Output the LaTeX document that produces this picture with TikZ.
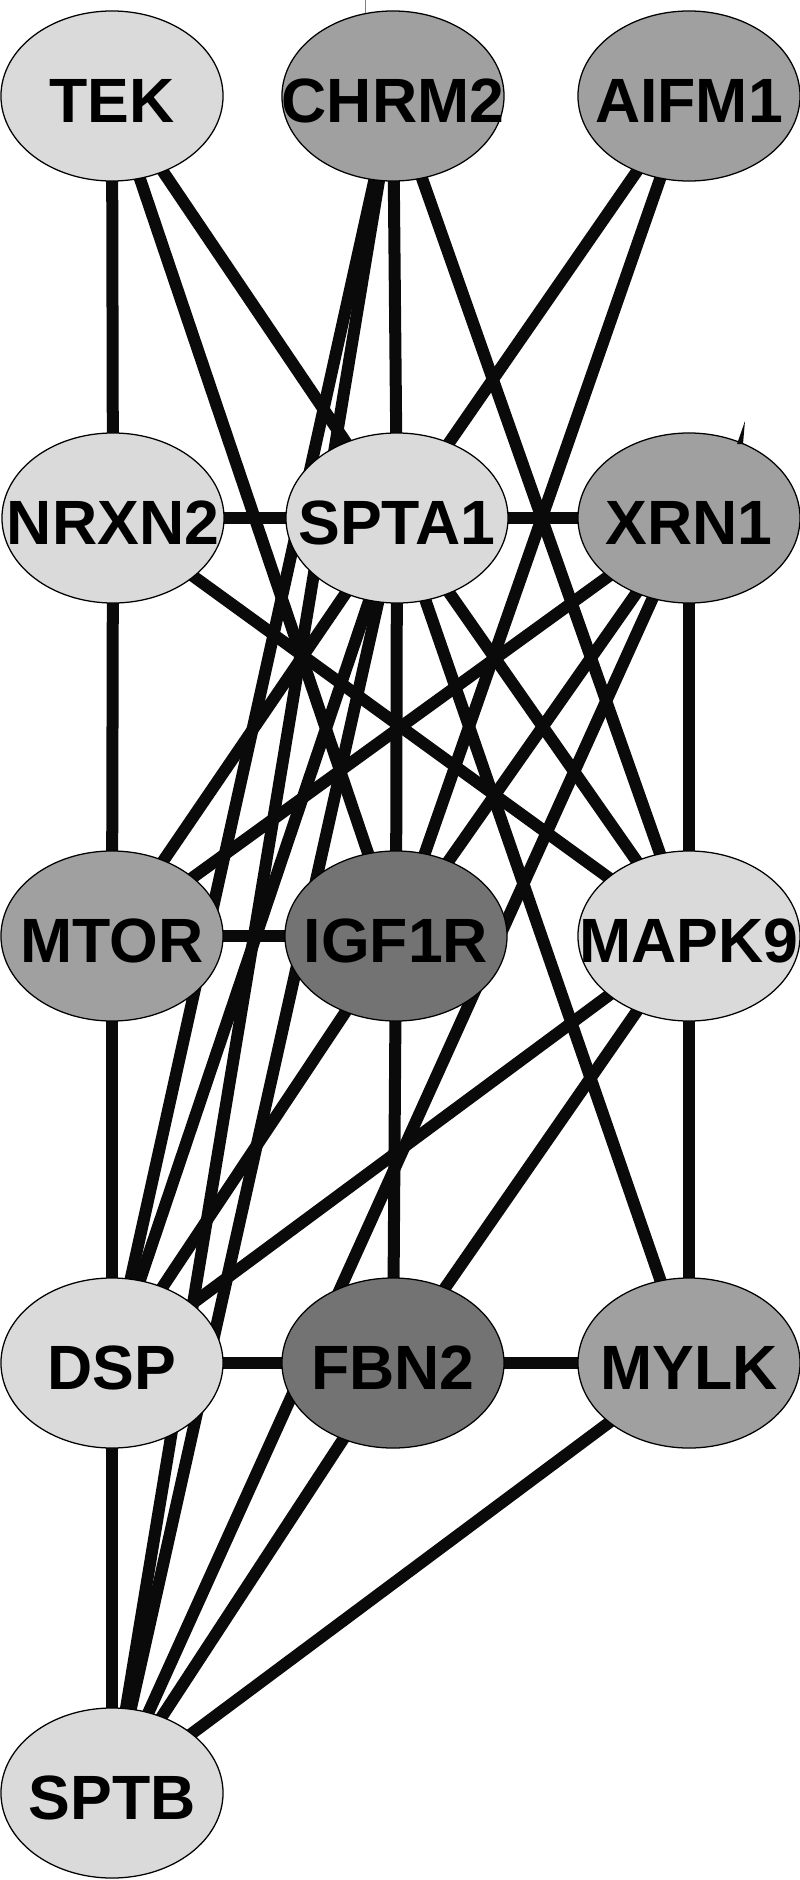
\documentclass[tikz,border=0pt]{standalone}
\usepackage{fontspec}
\setmainfont{Liberation Sans}
\usetikzlibrary{shapes.geometric,backgrounds}
\definecolor{glight}{RGB}{218,218,218}
\definecolor{gmid}{RGB}{160,160,160}
\definecolor{gdark}{RGB}{115,115,115}
\definecolor{edgeblk}{RGB}{10,10,10}
\tikzset{
  gene/.style={draw, ellipse, line width=0.9pt, minimum width=5.55cm, minimum height=4.25cm,
    inner xsep=-2cm, inner ysep=0pt, text height=1.32cm, text depth=0pt,
    font=\bfseries\fontsize{44.5}{50}\selectfont},
  edge/.style={draw=edgeblk, line width=0.3cm},
}
\begin{document}
\begin{tikzpicture}[x=0.025cm, y=-0.025cm]
\useasboundingbox (0,0) rectangle (800,1880);

% Genes
\node[gene, fill=glight] (tek)   at (112,96)   {TEK};
\node[gene, fill=gmid]   (chrm2) at (393,96)   {CHRM2};
\node[gene, fill=gmid]   (aifm1) at (689,96)   {AIFM1};
\node[gene, fill=glight] (nrxn2) at (113,518)  {NRXN2};
\node[gene, fill=glight] (spta1) at (397,518)  {SPTA1};
\node[gene, fill=gmid]   (xrn1)  at (689,518)  {XRN1};
\node[gene, fill=gmid]   (mtor)  at (112,936)  {MTOR};
\node[gene, fill=gdark]  (igf1r) at (396,936)  {IGF1R};
\node[gene, fill=glight] (mapk9) at (689,936)  {MAPK9};
\node[gene, fill=glight] (dsp)   at (112,1363) {DSP};
\node[gene, fill=gdark]  (fbn2)  at (393,1363) {FBN2};
\node[gene, fill=gmid]   (mylk)  at (689,1363) {MYLK};
\node[gene, fill=glight] (sptb)  at (112,1793) {SPTB};

% Interactions
\begin{scope}[on background layer]
\foreach \a/\b in {tek/nrxn2, tek/igf1r, tek/spta1,
    chrm2/spta1, chrm2/dsp, chrm2/sptb, chrm2/mapk9,
    aifm1/spta1, aifm1/igf1r,
    nrxn2/spta1, nrxn2/mtor, nrxn2/mapk9,
    spta1/xrn1, spta1/igf1r, spta1/mtor, spta1/dsp, spta1/sptb, spta1/mapk9, spta1/mylk,
    xrn1/mapk9, xrn1/mtor, xrn1/igf1r, xrn1/sptb,
    mtor/igf1r, mtor/dsp,
    igf1r/fbn2, igf1r/dsp,
    mapk9/mylk, mapk9/dsp, mapk9/fbn2,
    dsp/fbn2, fbn2/mylk, dsp/sptb, fbn2/sptb, mylk/sptb}
  \draw[edge] (\a.center) -- (\b.center);
\end{scope}

% stray marks
\draw[gray, line width=0.6pt] (365,0) -- (365,13);
\fill[edgeblk] (745,421) -- (737,444) -- (743,444) -- cycle;

\end{tikzpicture}
\end{document}
